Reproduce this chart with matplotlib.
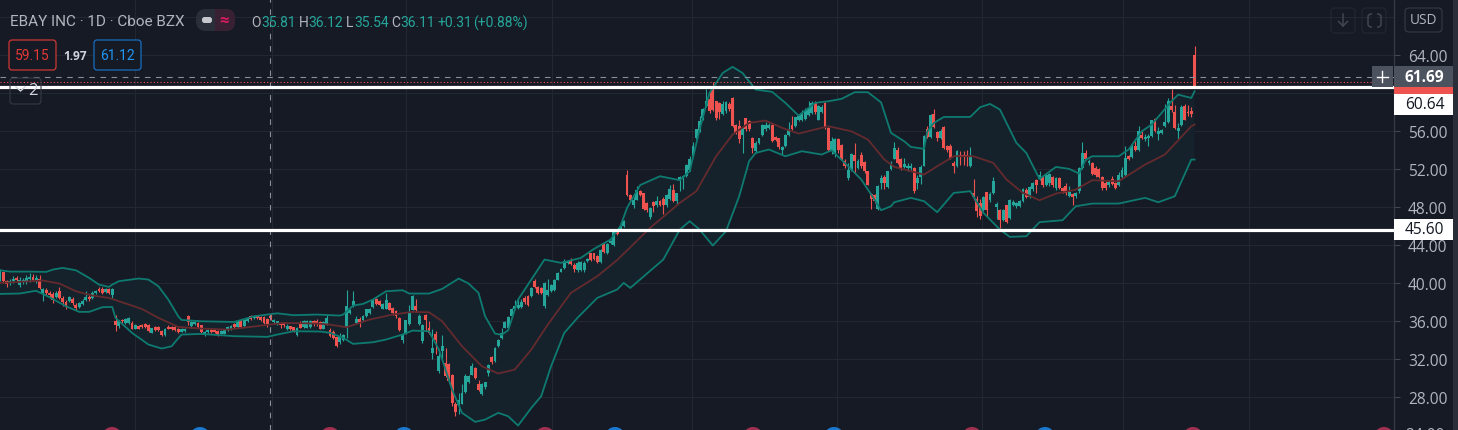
import numpy as np
import matplotlib
matplotlib.use("Agg")
import matplotlib.pyplot as plt
from matplotlib.patches import FancyBboxPatch, Rectangle, Circle

FONT = ["Open Sans", "DejaVu Sans"]
HEAD = ["Roboto", "DejaVu Sans"]
plt.rcParams["font.family"] = FONT

opens = [
 40.3,41.1,40.2,40.0,40.2,40.5,39.8,40.1,40.2,40.4,
 40.6,40.2,40.4,38.9,39.3,38.9,38.8,38.5,39.1,38.4,
 38.0,38.1,38.3,37.7,37.5,37.8,38.2,38.5,38.4,38.9,
 39.4,39.4,39.0,39.4,38.7,35.96,35.5,36.1,35.8,35.8,
 35.8,35.2,35.5,35.6,35.7,35.6,34.75,35.4,35.4,34.9,
 34.5,35.4,35.4,35.35,35.2,34.85,34.9,36.55,35.45,35.7,
 35.8,35.55,34.55,34.8,35.05,35.05,34.9,34.65,34.65,35.0,
 35.1,35.7,35.35,36.05,35.45,36.0,36.5,36.3,36.5,36.45,
 36.4,36.2,36.5,35.85,35.8,35.75,35.75,35.2,35.45,35.35,
 34.5,35.8,35.4,35.3,35.4,36.0,36.0,35.9,35.2,35.65,
 35.0,34.8,34.3,33.75,34.0,35.3,36.85,37.7,35.8,36.2,
 36.1,36.5,36.8,37.5,38.35,38.1,37.3,37.3,37.85,37.35,
 37.0,36.3,34.0,34.65,35.7,37.2,37.55,35.7,33.85,36.6,
 35.25,32.65,34.65,30.7,32.8,31.6,31.5,30.35,27.3,27.2,
 27.3,28.5,29.55,30.35,31.05,29.4,28.3,29.05,30.5,32.2,
 31.8,33.4,34.2,35.3,35.25,36.5,37.3,37.35,37.5,38.4,
 38.6,38.6,40.2,39.6,39.5,37.6,38.75,39.1,39.3,40.35,
 41.15,41.6,42.1,42.45,41.9,41.35,41.4,41.35,42.3,43.1,
 43.1,42.8,42.2,44.1,43.2,44.2,44.0,45.6,45.6,46.0,
 51.4,49.3,48.25,48.75,49.65,49.45,48.4,46.95,48.5,48.15,
 48.6,48.85,48.15,48.8,49.8,48.6,50.8,51.1,51.3,51.9,
 53.4,55.25,56.0,57.35,58.65,59.35,60.3,59.1,58.95,57.8,
 58.05,58.8,59.45,56.65,56.5,55.6,57.35,57.0,55.25,53.85,
 54.75,55.6,56.15,56.3,56.65,55.4,55.25,54.0,54.4,55.6,
 56.65,56.55,57.1,57.1,57.3,57.7,57.9,58.95,57.2,58.0,
 58.9,56.3,54.0,53.6,55.15,54.5,52.8,51.0,51.9,53.5,
 52.1,53.5,52.7,51.75,49.4,49.3,47.8,50.5,51.2,50.1,
 52.0,53.05,54.0,53.05,52.2,52.1,52.1,52.1,50.5,51.15,
 52.35,56.2,55.35,57.8,55.85,55.3,56.4,54.4,54.4,52.6,
 52.35,53.5,53.5,53.5,52.35,49.5,48.8,48.4,47.7,49.55,
 48.7,49.5,48.0,47.65,46.65,48.15,46.85,48.2,48.05,48.1,
 48.6,49.8,49.0,49.85,50.8,50.9,51.2,50.35,50.5,51.2,
 50.0,51.0,50.0,50.2,49.2,49.4,49.1,49.65,52.1,53.7,
 52.6,52.6,52.1,52.0,51.2,50.5,50.3,50.95,50.5,50.35,
 51.1,51.4,53.35,53.25,54.45,54.0,55.55,55.2,55.25,55.5,
 57.25,55.7,55.8,56.5,56.9,58.65,58.0,56.0,56.65,58.6,
 58.0,58.1,63.95]
closes = [
 41.3,40.2,39.9,40.2,40.4,40.3,40.3,40.3,40.5,40.6,
 40.3,40.5,39.5,39.4,38.9,38.7,38.2,38.9,38.4,38.0,
 37.7,38.5,37.9,37.4,37.9,38.1,38.5,38.3,38.9,39.2,
 39.2,38.9,39.4,38.9,39.4,35.6,36.0,35.95,36.2,36.3,
 35.2,35.6,35.2,35.4,35.4,34.9,35.2,35.0,35.0,34.5,
 35.1,35.2,35.1,35.0,34.8,35.2,35.2,35.85,35.85,35.85,
 35.4,34.85,34.8,35.0,34.8,34.8,34.55,34.9,35.0,35.4,
 35.5,35.35,36.0,35.4,36.1,36.35,36.2,36.45,36.3,36.1,
 35.8,35.7,36.3,36.05,35.95,35.6,35.6,35.5,35.1,34.9,
 35.3,35.3,36.0,36.0,36.0,35.65,35.65,35.2,35.9,36.3,
 34.4,34.2,33.35,34.45,34.5,37.55,37.2,38.05,36.25,35.85,
 36.5,37.25,37.25,38.2,37.8,37.65,37.8,38.25,37.2,36.85,
 36.5,35.0,34.65,36.05,36.85,38.6,37.2,36.5,35.6,36.05,
 34.75,33.1,33.95,32.35,33.35,30.2,29.65,27.35,26.4,27.7,
 28.4,30.25,30.25,31.3,30.0,28.75,29.4,29.55,31.35,31.65,
 33.15,33.95,34.75,35.85,36.4,37.3,37.6,37.65,37.95,37.95,
 37.7,39.5,39.6,38.95,38.95,40.0,39.3,39.8,40.35,41.0,
 41.5,42.3,42.3,42.0,41.5,42.1,42.2,42.1,42.5,42.4,
 42.5,42.2,43.5,43.3,44.1,44.4,45.4,45.1,46.0,46.5,
 49.3,48.7,48.75,49.8,49.3,47.8,47.65,47.9,48.05,48.6,
 48.25,48.25,49.3,49.85,48.6,49.45,51.2,51.25,52.45,53.05,
 54.4,56.15,57.05,58.3,59.2,58.05,58.2,57.35,58.0,58.8,
 59.0,58.3,56.5,55.8,55.1,56.3,56.15,56.2,54.2,54.75,
 55.25,56.65,56.65,56.65,54.9,55.05,54.3,54.3,55.6,56.1,
 56.2,57.45,57.6,57.85,58.2,58.4,58.95,57.95,58.6,58.5,
 56.3,54.0,54.9,55.15,54.0,52.9,52.3,51.9,53.6,52.8,
 52.8,52.3,51.75,50.35,48.8,48.6,50.2,51.05,50.5,51.75,
 52.5,54.2,52.6,52.0,52.55,52.3,52.35,49.65,51.0,52.2,
 55.5,55.4,57.7,56.4,55.25,56.0,54.2,53.95,53.15,52.3,
 53.85,53.35,53.3,53.25,53.3,49.0,47.55,47.0,49.0,47.7,
 49.4,50.7,48.35,46.6,47.7,46.4,48.7,48.55,48.4,48.6,
 49.9,49.05,50.05,50.5,50.35,51.4,50.35,51.4,51.5,50.3,
 51.0,50.0,49.7,49.5,49.55,49.0,49.5,52.1,53.7,53.0,
 52.8,51.5,51.4,51.1,50.0,50.0,50.65,50.45,50.0,51.4,
 51.9,53.2,53.0,54.45,54.0,56.0,55.3,55.4,55.5,57.1,
 56.0,56.0,56.05,56.9,59.1,58.25,56.3,56.3,58.5,57.2,
 57.9,57.8,60.77]
highs = [
 41.5,41.2,40.3,40.4,40.7,40.7,40.6,40.5,40.8,41.0,
 40.9,40.8,40.8,39.5,39.5,39.1,39.0,39.1,39.6,38.6,
 38.2,38.6,38.5,37.9,38.0,38.3,39.2,38.7,39.1,39.3,
 39.6,39.6,39.5,39.5,39.5,36.6,36.1,36.2,36.3,36.4,
 36.0,35.7,35.6,35.7,35.8,35.7,35.3,35.5,35.5,35.0,
 35.2,35.6,35.5,35.5,35.3,35.3,35.3,36.6,36.0,36.0,
 35.9,35.6,34.9,35.1,35.2,35.1,35.0,35.0,35.1,35.5,
 35.6,35.8,36.1,36.2,36.2,36.4,36.6,36.6,36.6,36.5,
 36.5,36.3,36.7,36.2,36.0,35.9,35.9,35.7,35.5,35.4,
 35.4,36.0,36.1,36.1,36.1,36.1,36.2,36.0,36.0,36.6,
 35.3,35.0,34.4,34.7,34.6,39.3,37.3,39.1,36.5,36.4,
 36.6,37.3,37.4,38.3,38.4,38.2,37.9,38.9,38.0,37.5,
 37.1,36.4,34.7,36.1,37.7,38.7,38.3,36.7,35.7,36.7,
 36.0,35.1,34.9,33.0,34.5,33.1,31.6,30.4,27.5,28.4,
 29.4,30.4,30.3,31.6,31.2,29.8,29.5,29.6,31.5,32.3,
 33.2,34.1,35.3,36.0,36.5,37.4,38.2,38.3,38.3,38.6,
 38.7,39.6,40.4,39.7,39.6,40.1,40.4,39.9,40.4,41.1,
 41.6,42.5,42.4,42.6,42.1,42.3,42.3,42.3,42.6,43.2,
 43.2,42.9,43.6,44.2,44.2,44.5,45.5,45.7,46.1,46.6,
 51.9,49.4,49.0,50.2,49.8,49.5,48.5,48.0,48.6,49.1,
 48.7,49.0,49.4,50.3,50.4,49.5,51.3,51.4,52.5,53.4,
 54.8,56.2,57.6,58.4,60.4,60.3,61.1,59.2,59.0,59.1,
 59.1,59.0,59.6,56.7,57.2,56.4,57.4,57.2,55.4,54.9,
 55.3,56.7,56.9,56.8,56.7,55.5,55.3,54.4,55.7,56.9,
 57.6,57.5,57.8,58.2,58.4,59.1,59.1,59.1,58.7,58.7,
 59.0,56.4,55.4,55.3,55.3,54.6,53.0,52.6,53.7,54.7,
 53.0,53.8,52.8,51.8,49.5,49.4,50.3,51.4,51.4,51.8,
 52.8,54.8,54.3,53.2,53.1,52.6,52.6,52.2,51.4,52.4,
 55.6,56.5,57.8,58.3,56.0,56.2,56.5,54.5,54.6,52.8,
 54.0,53.9,53.9,54.0,54.3,50.9,49.1,48.8,49.1,49.6,
 49.6,51.2,48.5,47.8,47.8,48.2,48.8,48.7,48.5,48.7,
 50.0,50.0,50.2,50.6,50.9,51.8,51.4,51.6,51.6,51.3,
 51.1,51.2,50.1,50.5,50.2,49.5,49.6,52.2,54.8,54.0,
 53.0,52.7,52.3,52.1,51.3,50.7,50.8,51.3,50.6,51.7,
 52.2,54.4,53.5,54.6,54.9,56.5,56.0,55.7,55.7,57.2,
 57.4,56.4,56.2,58.8,59.5,60.4,58.7,56.8,58.7,58.8,
 58.7,58.5,64.9]
lows = [
 40.2,40.0,39.6,39.8,40.0,40.2,39.6,39.9,39.9,40.1,
 40.2,40.0,39.4,38.1,38.7,38.5,37.9,38.4,38.3,37.6,
 37.3,38.0,37.7,37.1,37.4,37.7,38.1,38.1,38.3,38.8,
 39.0,38.8,38.9,38.8,38.4,34.9,35.3,35.8,35.7,35.7,
 35.1,35.1,35.1,35.3,35.3,34.8,34.7,34.9,34.9,34.4,
 34.4,35.1,35.0,34.9,34.7,34.8,34.8,35.6,35.3,35.6,
 35.3,34.7,34.4,34.7,34.7,34.7,34.4,34.6,34.6,34.9,
 35.0,35.2,35.3,35.3,35.4,35.9,36.1,36.2,36.2,36.0,
 35.7,35.4,36.1,35.7,35.6,35.3,35.4,35.0,35.0,34.8,
 34.4,35.2,35.3,35.2,35.3,35.5,35.5,35.1,35.1,35.6,
 34.3,34.1,33.3,33.6,33.9,34.2,36.7,37.5,35.7,35.4,
 36.0,36.4,36.7,37.4,37.7,37.6,37.2,37.2,37.1,36.6,
 36.3,34.9,33.7,34.6,35.6,37.1,36.9,35.6,33.7,34.9,
 34.6,32.0,32.5,30.5,31.8,30.1,29.5,27.0,26.0,26.2,
 27.2,28.4,29.5,30.3,29.9,28.6,28.2,28.8,30.2,31.5,
 31.7,33.3,34.1,35.2,35.1,36.3,37.2,37.2,37.4,37.8,
 37.6,38.5,39.5,38.8,38.8,37.4,38.6,39.0,39.2,40.3,
 41.1,41.5,42.0,41.9,41.2,41.2,41.3,41.2,42.2,42.3,
 42.4,42.1,42.1,43.2,43.0,44.1,43.9,45.0,45.5,45.9,
 49.2,48.6,47.9,48.7,49.2,47.7,47.5,46.7,47.5,48.0,
 48.1,47.3,48.0,48.7,48.5,48.3,49.7,49.9,51.2,51.8,
 53.3,55.2,55.9,57.2,58.5,57.9,58.1,57.2,57.3,57.7,
 57.9,58.1,56.4,55.7,54.7,53.7,56.0,56.0,53.7,53.7,
 54.6,55.5,56.0,56.2,54.8,54.9,54.1,53.6,54.3,55.5,
 56.1,56.4,57.0,57.0,57.2,57.6,57.8,57.8,57.1,57.9,
 56.2,53.9,53.6,53.3,53.7,52.8,52.1,50.8,51.8,51.6,
 52.0,52.1,51.6,50.3,47.8,48.4,47.7,49.9,49.9,50.0,
 51.9,53.0,52.5,51.9,52.1,51.8,51.9,49.5,49.9,50.4,
 52.3,55.3,55.3,56.3,54.9,55.1,54.1,53.8,53.0,51.6,
 52.2,52.4,52.4,52.3,52.2,48.7,46.9,46.7,47.6,47.0,
 48.5,49.4,46.7,45.8,46.5,46.3,46.7,48.1,47.9,48.0,
 48.5,48.9,48.9,49.7,49.5,50.8,50.1,50.2,50.2,50.1,
 49.8,49.9,49.5,49.3,49.0,48.2,48.9,49.5,52.0,52.9,
 52.4,51.4,51.2,51.0,49.8,49.8,50.1,50.3,49.9,50.2,
 51.0,51.3,52.9,53.1,53.9,53.9,55.2,54.9,54.4,55.4,
 55.9,55.0,55.7,56.4,56.8,58.0,56.2,55.0,56.5,57.1,
 57.6,57.5,60.7]

upper_bars = [0,3,9,14,16,19,23,27,30,33,34,36,42,45,48,51,54,55,61,71,77,84,89,96,103,
 104,107,110,113,117,122,124,130,134,139,142,145,147,150,152,154,157,161,165,
 170,176,180,185,188,190,194,200,206,209,212,215,219,222,225,229,234,238,242,247,251,255,259,263,267,
 270,274,276,280,281,283,286,294,297,300,303,308,311,315,320,324,327,329,331,339,342,346,349,355,357,361,362]
upper_vals = [41.33,41.19,41.19,41.16,41.4,41.58,41.33,40.53,39.82,39.58,39.82,40.18,40.46,40.35,39.65,38.25,36.49,36.1,35.96,35.89,36.49,36.8,36.6,36.67,36.56,
 36.67,37.61,37.79,38.25,39.12,39.23,38.88,38.88,39.37,40.46,39.93,38.95,36.49,34.67,34.53,35.02,38.25,40.35,42.46,
 42.11,42.63,43.58,44.56,45.96,47.89,50.3,51.23,50.81,51.75,56.14,60.0,62.1,62.74,62.1,60.35,60.11,58.95,57.61,58.95,59.12,59.37,60.07,60.07,59.0,
 55.79,54.91,54.32,54.11,55.96,56.84,57.47,57.47,58.49,58.84,58.25,54.74,53.68,50.95,52.21,52.0,51.51,52.98,53.33,53.33,54.04,55.96,56.67,59.12,59.82,59.47,60.18]
lower_bars = [0,6,10,11,15,20,24,27,31,34,35,40,45,49,52,53,55,61,71,81,84,89,97,
 100,104,107,113,117,122,125,130,133,137,140,144,147,151,154,157,161,164,167,171,175,181,187,189,191,
 201,206,209,212,216,220,224,227,229,233,238,243,249,252,257,261,
 265,267,270,271,276,280,284,289,294,298,303,306,311,315,322,326,331,339,347,351,356,361,362]
lower_vals = [38.84,38.88,39.12,39.16,38.49,37.54,36.95,36.95,37.44,37.47,36.32,34.74,33.51,33.09,33.33,33.75,34.56,34.63,34.39,34.32,34.56,34.91,34.88,
 34.74,34.21,33.58,33.75,34.04,34.56,34.98,34.91,32.98,28.77,26.32,25.37,25.61,26.32,25.96,24.98,26.84,28.07,31.23,34.74,36.32,38.42,39.3,40.0,39.47,
 42.46,45.61,46.49,45.61,43.93,45.44,49.12,52.81,53.68,54.04,53.33,53.86,53.51,53.96,52.28,50.88,
 48.77,47.65,48.07,48.49,48.95,48.6,47.44,49.47,49.65,47.37,45.61,44.84,44.91,46.39,46.6,48.07,48.35,48.35,48.95,48.49,49.12,52.98,52.98]
basis_bars = [0,6,13,18,23,28,33,43,48,54,61,69,76,86,96,100,105,112,119,125,130,134,140,146,151,156,161,166,173,181,187,
 197,206,211,217,222,227,232,237,242,251,258,263,268,271,280,284,289,295,301,305,310,315,320,326,331,339,347,353,361,362]
basis_vals = [40.0,40.11,40.25,39.93,39.12,38.67,38.42,37.26,36.32,35.37,35.19,35.09,35.37,35.79,35.72,35.61,35.33,36.14,36.67,36.95,36.91,35.96,33.33,31.23,30.46,30.88,32.98,35.61,38.95,40.7,42.4,
 45.79,48.42,49.65,53.33,55.61,56.84,57.09,56.32,55.72,56.49,55.96,55.09,52.98,52.21,51.4,52.28,53.33,53.33,52.63,50.88,49.47,48.7,49.4,49.82,50.81,50.7,52.46,53.51,56.49,56.67]

price_ticks = [64, 56, 52, 48, 44, 40, 36, 32, 28]
grid_prices = [68, 64, 60, 56, 52, 48, 44, 40, 36, 32, 28]
grid_bars = [40.9, 82.4, 123, 167.2, 209.7, 253.6, 297.5, 340.2, 378.5]
level_lines = [60.64, 45.60]
last_price = 61.69
ask_price = 61.12
legend_values = ["35.81", "36.12", "35.54", "36.11"]

BG = "#151a25"
UP = "#26a69a"
DOWN = "#ef5350"
GRID = "#232732"
AXC = "#b2b5be"
BAND = "#0e7a70"
BASIS = "#642a2e"

W, H = 1458, 431
fig = plt.figure(figsize=(W / 100, H / 100), dpi=100, facecolor=BG)
ax = fig.add_axes([0, 0, 1394 / W, 1])
ax.set_facecolor(BG)
ax.set_xlim(0, 1394 / 3.3)
ax.set_ylim(28 + (397.9 - 431) / 9.5, 28 + 397.9 / 9.5)

bars = np.arange(len(opens))
o, c, hi, lo = map(np.array, (opens, closes, highs, lows))
colors = np.where(c >= o, UP, DOWN)

ax.fill(upper_bars + lower_bars[::-1], upper_vals + lower_vals[::-1],
        color="#15222b", lw=0, zorder=1)
ax.vlines(bars, lo, hi, colors=colors, lw=0.8, zorder=3)
ax.bar(bars, np.maximum(np.abs(c - o), 0.08), bottom=np.minimum(o, c), width=0.85,
       color=colors, lw=0, zorder=4)
for bx, vals, col in [(upper_bars, upper_vals, BAND), (lower_bars, lower_vals, BAND),
                      (basis_bars, basis_vals, BASIS)]:
    ax.plot(bx, vals, color=col, lw=1.3, solid_joinstyle="round", zorder=5)

for p in grid_prices:
    ax.axhline(p, color=GRID, lw=0.8, zorder=0)
for b in grid_bars:
    ax.axvline(b, color=GRID, lw=0.8, zorder=0)

ax.axvline(270 / 3.3, color="#8a8e99", lw=0.8, dashes=(5, 6), zorder=6)
ax.axhline(last_price, color="#8a8e99", lw=0.8, dashes=(5, 5), zorder=6)
ax.axhline(ask_price, color=DOWN, lw=0.8, dashes=(1, 2), zorder=6)
for lv in level_lines:
    ax.axhline(lv, color="white", lw=2.3, zorder=7)

ax.set_xticks([])
ax.yaxis.tick_right()
ax.set_yticks(price_ticks, [f"{p:.2f}" for p in price_ticks])
ax.tick_params(axis="y", length=4, width=0.8, color="#434651", labelcolor=AXC,
               labelsize=11.2, pad=6)
for s in ("top", "left", "bottom"):
    ax.spines[s].set_visible(False)
ax.spines["right"].set_color("#363a45")
ax.spines["right"].set_linewidth(0.9)

ui = fig.add_axes([0, 0, 1, 1], facecolor="none")
ui.set_xlim(0, W)
ui.set_ylim(H, 0)
ui.axis("off")


def rbox(x0, y0, x1, y1, ec="none", fc="none", r=3, lw=0.8, z=10):
    ui.add_patch(FancyBboxPatch((x0 + r, y0 + r), x1 - x0 - 2 * r, y1 - y0 - 2 * r,
                                boxstyle=f"round,pad={r}", ec=ec, fc=fc, lw=lw, zorder=z))


def rect(x0, y0, x1, y1, fc, z=10):
    ui.add_patch(Rectangle((x0, y0), x1 - x0, y1 - y0, fc=fc, ec="none", zorder=z))


def txt(x, y, s, color=AXC, size=9.5, ha="left", **kw):
    ui.text(x, y, s, color=color, fontsize=size, ha=ha, va="center", zorder=12, **kw)


# bottom event markers
for x, col in [(112, "#a0304f"), (200, "#1a78d0"), (330, "#a0304f"), (404, "#1a78d0"),
               (545, "#a0304f"), (615, "#1a78d0"), (753, "#a0304f"), (834, "#1a78d0"),
               (972, "#a0304f"), (1045, "#1a78d0"), (1193, "#a0304f"), (1384, "#a0304f")]:
    ui.add_patch(Circle((x, 438), 10, fc=col, ec="none", zorder=9))

# right price scale boxes
rect(1453, 0, W, H, "#2a2e39")
rect(1394, 67, 1453, 88, "#4c525e")
rect(1372, 67, 1393, 88, "#4c525e")
ui.plot([1377, 1388], [77.5, 77.5], color="white", lw=1, zorder=12)
ui.plot([1382.5, 1382.5], [72, 83], color="white", lw=1, zorder=12)
txt(1405, 77.5, f"{last_price:.2f}", color="white", size=11.2, fontweight="bold")
rect(1394, 88, 1453, 94.5, DOWN)
rect(1394, 95, 1453, 116, "white")
txt(1405, 105.5, f"{level_lines[0]:.2f}", color="#131722", size=11.2)
rect(1394, 220, 1453, 241, "white")
txt(1405, 230.5, f"{level_lines[1]:.2f}", color="#131722", size=11.2)
txt(1405, 436, "24.00", size=11.2)

# top right buttons
rbox(1405, 9, 1442, 33, ec="#363a45", fc=BG, r=4)
txt(1423.5, 21, "USD", ha="center", size=9.8)
rbox(1331, 9, 1355, 34, ec="#232732", r=4)
rbox(1362, 9, 1386, 34, ec="#232732", r=4)
ui.plot([1343, 1343], [15, 27], color="#434651", lw=1.1, zorder=12)
ui.plot([1338.5, 1343, 1347.5], [22.5, 27, 22.5], color="#434651", lw=1.1, zorder=12)
rbox(1368, 15, 1381, 28, ec="#434651", r=3, lw=1.1)
rect(1372, 13, 1377, 30, BG, z=11)

# title and legend
txt(10, 21.5, "EBAY INC · 1D · Cboe BZX", size=11, family=HEAD)
rbox(196, 10, 235, 32, fc="#2a2e39", r=10)
rbox(215, 10, 235, 32, fc="#3a2033", r=9)
rect(215, 10, 222, 32, "#3a2033")
rbox(202, 18, 212, 24, fc="#c5c7cd", r=2.5, z=11)
txt(224, 21, "≈", color="#d81b60", size=12, ha="center", fontweight="bold")

for (xl, xv, lab, val) in zip([251, 299, 346, 391], [261, 308, 354, 400], "OHLC", legend_values):
    txt(xl, 23, lab, size=10, family=HEAD)
    txt(xv, 23, val, color=UP, size=10, family=HEAD)
txt(438, 23, "+0.31", color=UP, size=10, family=HEAD)
txt(473, 23, "(+0.88%)", color=UP, size=10, family=HEAD)

# buy / sell boxes
rbox(9, 41, 56, 71, ec="#e53935", fc=BG, r=3)
txt(32.5, 56, "59.15", color="#e53935", size=10, ha="center", family=HEAD)
txt(75, 56, "1.97", color="#d1d4dc", size=8.6, ha="center", fontweight="bold")
rbox(94, 41, 141, 71, ec="#1976d2", fc=BG, r=3)
txt(117.5, 56, "61.12", color="#2196f3", size=10, ha="center", family=HEAD)

# collapse button
rbox(10, 79, 41, 105, ec="#363a45", r=3)
ui.plot([16, 20.5, 25], [88, 92, 88], color="#d1d4dc", lw=1, zorder=12)
txt(32.5, 91, "2", color="#d1d4dc", size=12, ha="center")

fig.savefig("out.png", dpi=100, facecolor=BG)
